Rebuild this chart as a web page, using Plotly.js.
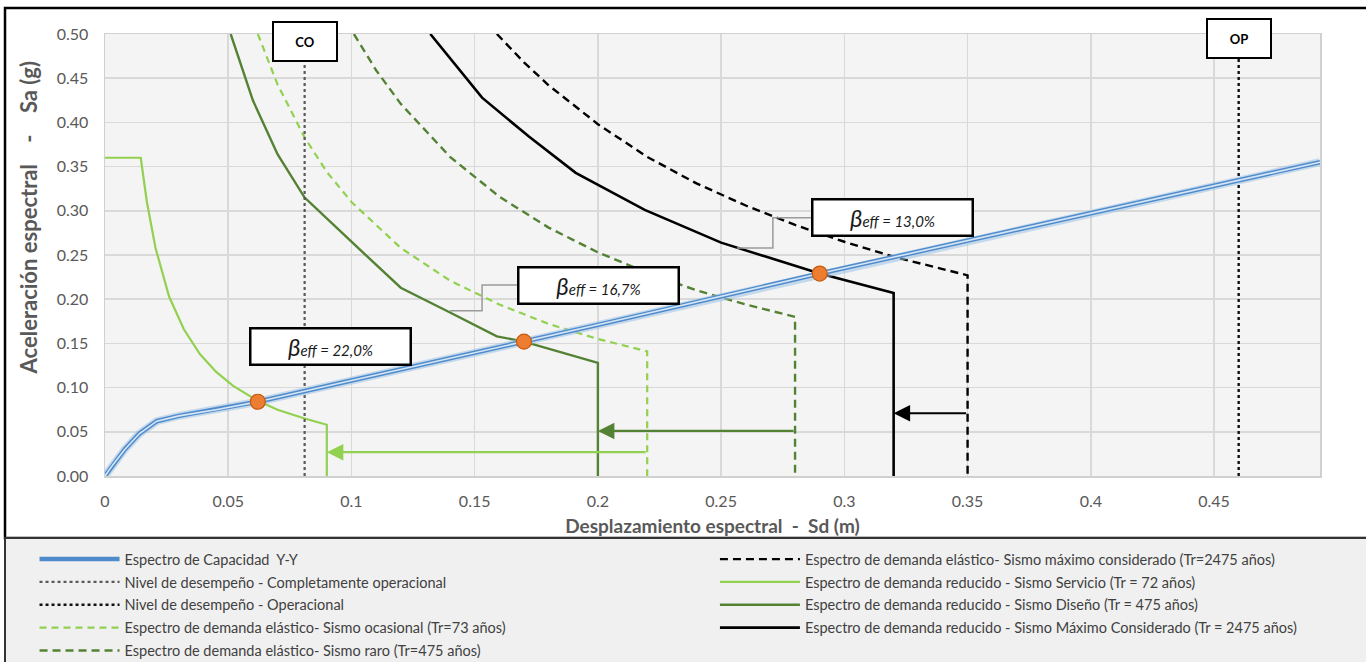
<!DOCTYPE html>
<html>
<head>
<meta charset="utf-8">
<script src="https://cdn.plot.ly/plotly-3.0.1.min.js"></script>
<style>html,body{margin:0;padding:0;background:#fff;}#chart{width:1366px;height:662px;}</style>
</head>
<body>
<div id="chart"></div>
<script>
// ---- Data ----
// Capacity spectrum Y-Y
const capSd = [0, 0.003, 0.008, 0.014, 0.021, 0.030, 0.045, 0.062, 0.100, 0.170, 0.200, 0.290, 0.400, 0.493];
const capSa = [0, 0.012, 0.030, 0.048, 0.062, 0.068, 0.075, 0.084, 0.108, 0.152, 0.171, 0.229, 0.297, 0.355];

// Elastic demand - occasional (Tr=73)
const occSd = [0.062, 0.070, 0.081, 0.090, 0.100, 0.120, 0.140, 0.160, 0.180, 0.200, 0.220, 0.220];
const occSa = [0.500, 0.443, 0.383, 0.344, 0.310, 0.258, 0.221, 0.194, 0.172, 0.155, 0.141, 0.000];

// Elastic demand - rare (Tr=475)
const rarSd = [0.101, 0.110, 0.120, 0.140, 0.160, 0.180, 0.200, 0.220, 0.240, 0.260, 0.280, 0.280];
const rarSa = [0.500, 0.459, 0.421, 0.361, 0.316, 0.281, 0.253, 0.230, 0.210, 0.194, 0.180, 0.000];

// Elastic demand - maximum considered (Tr=2475)
const mceSd = [0.159, 0.170, 0.180, 0.200, 0.220, 0.240, 0.260, 0.280, 0.300, 0.320, 0.350, 0.350];
const mceSa = [0.500, 0.468, 0.442, 0.398, 0.361, 0.331, 0.306, 0.284, 0.265, 0.248, 0.227, 0.000];

// Reduced demand - Servicio (Tr=72)
const serSd = [0, 0.0145, 0.017, 0.0205, 0.026, 0.032, 0.0385, 0.045, 0.052, 0.062, 0.070, 0.081, 0.090, 0.090];
const serSa = [0.360, 0.360, 0.310, 0.258, 0.203, 0.166, 0.138, 0.118, 0.102, 0.085, 0.075, 0.065, 0.058, 0.000];

// Reduced demand - Diseño (Tr=475)
const disSd = [0.051, 0.060, 0.070, 0.081, 0.100, 0.120, 0.140, 0.159, 0.170, 0.200, 0.200];
const disSa = [0.500, 0.425, 0.364, 0.315, 0.265, 0.213, 0.185, 0.158, 0.152, 0.128, 0.000];

// Reduced demand - Máximo considerado (Tr=2475)
const redSd = [0.132, 0.153, 0.172, 0.191, 0.219, 0.250, 0.290, 0.320, 0.320];
const redSa = [0.500, 0.428, 0.384, 0.343, 0.301, 0.264, 0.229, 0.207, 0.000];

// Performance levels
const perfLabels = ['CO', 'OP'];
const perfSd = [0.081, 0.460];

// Performance points and effective damping
const ppSd = [0.062, 0.170, 0.290];
const ppSa = [0.084, 0.152, 0.229];
const betaEff = ['22,0%', '16,7%', '13,0%'];

// Reduction arrows (elastic -> reduced), Sa level of each arrow
const arrowSa = [0.027, 0.051, 0.071];

const yTicks = [0, 0.05, 0.10, 0.15, 0.20, 0.25, 0.30, 0.35, 0.40, 0.45, 0.50];

// ---- Styles ----
const LG = '#92D050', DG = '#548235', BK = '#000000';
const FONT = 'Lato, "Open Sans", "DejaVu Sans", sans-serif';
const NB = '\u00a0';

const traces = [
  {x: occSd, y: occSa, name: 'Espectro de demanda elástico- Sismo ocasional (Tr=73 años)', legend: 'legend', legendrank: 4, legendgroup: 'g4',
   mode: 'lines', line: {color: LG, width: 2.2, dash: '7px,5px'}},
  {x: rarSd, y: rarSa, name: 'Espectro de demanda elástico- Sismo raro (Tr=475 años)', legend: 'legend', legendrank: 5, legendgroup: 'g5',
   mode: 'lines', line: {color: DG, width: 2.4, dash: '8px,5px'}},
  {x: mceSd, y: mceSa, name: 'Espectro de demanda elástico- Sismo máximo considerado (Tr=2475 años)', legend: 'legend2', legendrank: 1, legendgroup: 'h1',
   mode: 'lines', line: {color: BK, width: 2.4, dash: '8px,5px'}},
  {x: serSd, y: serSa, name: 'Espectro de demanda reducido - Sismo Servicio (Tr = 72 años)', legend: 'legend2', legendrank: 2, legendgroup: 'h2',
   mode: 'lines', line: {color: LG, width: 2.2}},
  {x: disSd, y: disSa, name: 'Espectro de demanda reducido - Sismo Diseño (Tr = 475 años)', legend: 'legend2', legendrank: 3, legendgroup: 'h3',
   mode: 'lines', line: {color: DG, width: 2.4}},
  {x: redSd, y: redSa, name: 'Espectro de demanda reducido - Sismo Máximo Considerado (Tr = 2475 años)', legend: 'legend2', legendrank: 4, legendgroup: 'h4',
   mode: 'lines', line: {color: BK, width: 2.6}},
  {x: [perfSd[0], perfSd[0]], y: [0, 0.5], name: 'Nivel de desempeño - Completamente operacional', legend: 'legend', legendrank: 2, legendgroup: 'g2',
   mode: 'lines', line: {color: '#595959', width: 2.2, dash: 'dot'}},
  {x: [perfSd[1], perfSd[1]], y: [0, 0.5], name: 'Nivel de desempeño - Operacional', legend: 'legend', legendrank: 3, legendgroup: 'g3',
   mode: 'lines', line: {color: '#111111', width: 2.4, dash: 'dot'}},
  // capacity spectrum drawn as a double line
  {x: capSd, y: capSa, showlegend: false, mode: 'lines', line: {color: 'rgba(157,195,230,0.55)', width: 8}},
  {x: capSd, y: capSa, name: 'Espectro de Capacidad  Y-Y', legend: 'legend', legendrank: 1, legendgroup: 'g1',
   mode: 'lines', line: {color: '#4F8BCB', width: 4.5}},
  {x: capSd, y: capSa, showlegend: false, mode: 'lines', line: {color: '#D6E6F6', width: 1.6}},
  // performance points
  {x: ppSd, y: ppSa, showlegend: false, mode: 'markers',
   marker: {color: '#ED7D31', size: 15, line: {color: '#C55A11', width: 1.2}}}
];

// arrows from elastic to reduced spectra
const arrowFrom = [occSd[occSd.length - 1], rarSd[rarSd.length - 1], mceSd[mceSd.length - 1]];
const arrowTo = [serSd[serSd.length - 1], disSd[disSd.length - 1], redSd[redSd.length - 1]];
const arrowCol = [LG, DG, BK];

const annotations = [];
for (let i = 0; i < 3; i++) {
  annotations.push({
    x: arrowTo[i], y: arrowSa[i], ax: arrowFrom[i], ay: arrowSa[i], xref: 'x', yref: 'y', axref: 'x', ayref: 'y',
    text: '', showarrow: true, arrowhead: 2, arrowsize: 1.5, arrowwidth: 2.2, arrowcolor: arrowCol[i], standoff: 0
  });
}
// performance level boxes
const perfY = [0.982, 0.989];
perfLabels.forEach((t, i) => annotations.push({
  x: perfSd[i], y: perfY[i], xref: 'x', yref: 'paper', text: '<b>' + t + '</b>', showarrow: false,
  font: {family: FONT, size: 13, color: '#000'}, bgcolor: '#ffffff', bordercolor: '#000000', borderwidth: 2,
  width: 60, height: 35, xanchor: 'center', yanchor: 'middle'
}));
// effective damping boxes
const boxPos = [[0.0917, 0.146], [0.2004, 0.215], [0.3197, 0.292]];
betaEff.forEach((b, i) => annotations.push({
  x: boxPos[i][0], y: boxPos[i][1], xref: 'x', yref: 'y', showarrow: false,
  text: '<i><span style="font-size:24px">β</span>eff = ' + b + '</i>',
  font: {family: FONT, size: 15, color: '#1a1a1a'}, bgcolor: '#ffffff', bordercolor: '#000000', borderwidth: 2.5,
  width: 156, height: 32, xanchor: 'center', yanchor: 'middle'
}));
// y axis title (placed as in the reference, off-centre)
annotations.push({
  x: -0.0634, y: 0.585, xref: 'paper', yref: 'paper', showarrow: false, textangle: -90,
  text: '<b>Aceleración espectral ' + NB + NB + NB + '-' + NB + NB + NB + ' Sa (g)</b>',
  font: {family: FONT, size: 22, color: '#595959'}, xanchor: 'center', yanchor: 'middle'
});

const shapes = [
  // chart outer border
  {type: 'rect', xref: 'paper', yref: 'paper', x0: -0.0823, x1: 1.045, y0: -0.1403, y1: 1.0588,
   line: {color: '#000', width: 2.5}, fillcolor: 'rgba(0,0,0,0)', layer: 'below'},
  // legend panel
  {type: 'rect', xref: 'paper', yref: 'paper', x0: -0.0823, x1: 1.045, y0: -0.43, y1: -0.1403,
   line: {color: '#333', width: 2}, fillcolor: '#F0F0F0', layer: 'below'},
  // leader lines
  {type: 'path', xref: 'x', yref: 'y', path: 'M0.168,0.216 L0.153,0.216 L0.153,0.187 L0.140,0.187',
   line: {color: '#9a9a9a', width: 1.5}, layer: 'above'},
  {type: 'path', xref: 'x', yref: 'y', path: 'M0.2872,0.292 L0.271,0.292 L0.271,0.258 L0.2564,0.258',
   line: {color: '#9a9a9a', width: 1.5}, layer: 'above'}
];

const legendFont = {family: FONT, size: 14.5, color: '#404040'};
const layout = {
  width: 1366, height: 662,
  margin: {l: 105, r: 46, t: 34, b: 186, autoexpand: false},
  paper_bgcolor: '#ffffff', plot_bgcolor: '#F4F4F4',
  font: {family: FONT, color: '#595959'},
  showlegend: true,
  xaxis: {
    range: [0, 0.493], dtick: 0.05, tick0: 0, showgrid: true, gridcolor: '#D9D9D9', gridwidth: 1.5,
    zeroline: false, showline: true, mirror: true, linecolor: '#D0D0D0', linewidth: 1.5,
    ticks: '', ticklabelstandoff: 10, tickfont: {size: 16, color: '#595959'},
    title: {text: 'Desplazamiento espectral ' + NB + '-' + NB + ' Sd (m)', font: {size: 19, color: '#595959', weight: 700}, standoff: 11}
  },
  yaxis: {
    range: [0, 0.5], tickvals: yTicks, tickformat: '.2f', showgrid: true, gridcolor: '#D9D9D9', gridwidth: 1.5,
    zeroline: false, showline: true, mirror: true, linecolor: '#D0D0D0', linewidth: 1.5,
    ticks: '', ticklabelstandoff: 12, tickfont: {size: 16, color: '#595959'}
  },
  legend: {orientation: 'v', x: -0.058, xanchor: 'left', y: -0.152, yanchor: 'top', traceorder: 'grouped',
           tracegroupgap: 1, bgcolor: 'rgba(0,0,0,0)', itemwidth: 80, font: legendFont},
  legend2: {orientation: 'v', x: 0.502, xanchor: 'left', y: -0.152, yanchor: 'top', traceorder: 'grouped',
           tracegroupgap: 1, bgcolor: 'rgba(0,0,0,0)', itemwidth: 80, font: legendFont},
  annotations: annotations,
  shapes: shapes,
  hovermode: false
};

Plotly.newPlot('chart', traces, layout, {displayModeBar: false, staticPlot: true});
</script>
</body>
</html>
